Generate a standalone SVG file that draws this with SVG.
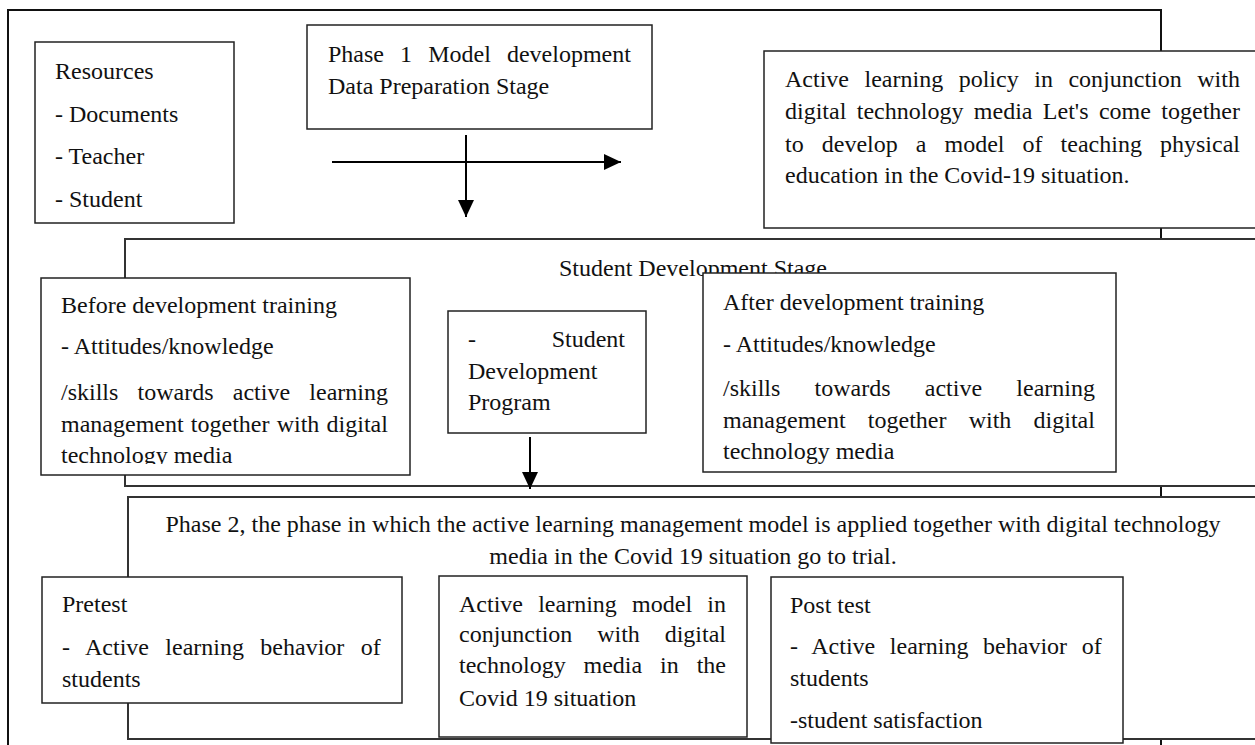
<svg xmlns="http://www.w3.org/2000/svg" width="1255" height="745" viewBox="0 0 1255 745">
<style>
.t{font-family:"Liberation Serif","Times New Roman",serif;font-size:24px;fill:#111}
.box{fill:#fff;stroke:#222;stroke-width:1.5}
.frame{fill:#fff;stroke:#333;stroke-width:2}
.outer{fill:#fff;stroke:#111;stroke-width:2}
.con{stroke:#000;stroke-width:2;fill:none}
</style>
<defs>
<marker id="ah" markerUnits="userSpaceOnUse" markerWidth="18" markerHeight="16" refX="17" refY="8" orient="auto">
<path d="M0,0 L17,8 L0,16 Z" fill="#000"/>
</marker>
<clipPath id="clipBefore"><rect x="41" y="278" width="369" height="186"/></clipPath>
</defs>
<rect id="outer-frame" class="outer" x="8" y="10" width="1153" height="760"/>

<g id="resources">
<rect class="box" x="35" y="42" width="199" height="181"/>
<text class="t" x="55" y="79">Resources</text>
<text class="t" x="55" y="122">- Documents</text>
<text class="t" x="55" y="164">- Teacher</text>
<text class="t" x="55" y="207">- Student</text>
</g>

<g id="phase1">
<rect class="box" x="307" y="25" width="345" height="104"/>
<text class="t" x="328" y="62" word-spacing="10.1">Phase 1 Model development</text>
<text class="t" x="328" y="94">Data Preparation Stage</text>
</g>

<g id="policy">
<rect class="box" x="764" y="51" width="520" height="177"/>
<text class="t" x="785" y="87" word-spacing="9.54">Active learning policy in conjunction with</text>
<text class="t" x="785" y="119" word-spacing="4.42">digital technology media Let's come together</text>
<text class="t" x="785" y="152" word-spacing="12.07">to develop a model of teaching physical</text>
<text class="t" x="785" y="183">education in the Covid-19 situation.</text>
</g>

<g id="student-stage">
<rect class="frame" x="125" y="239" width="1160" height="247"/>
<text class="t" x="693" y="276" text-anchor="middle">Student Development Stage</text>
</g>

<g id="before">
<rect class="box" x="41" y="278" width="369" height="197"/>
<g clip-path="url(#clipBefore)">
<text class="t" x="61" y="313">Before development training</text>
<text class="t" x="61" y="354">- Attitudes/knowledge</text>
<text class="t" x="61" y="400" word-spacing="13.23">/skills towards active learning</text>
<text class="t" x="61" y="432" word-spacing="1.23">management together with digital</text>
<text class="t" x="61" y="463">technology media</text>
</g>
</g>

<g id="program">
<rect class="box" x="448" y="311" width="198" height="122"/>
<text class="t" x="468" y="347">-</text>
<text class="t" x="625" y="347" text-anchor="end">Student</text>
<text class="t" x="468" y="379">Development</text>
<text class="t" x="468" y="410">Program</text>
</g>

<g id="after">
<rect class="box" x="703" y="273" width="413" height="199"/>
<text class="t" x="723" y="310">After development training</text>
<text class="t" x="723" y="352">- Attitudes/knowledge</text>
<text class="t" x="723" y="396" word-spacing="28.23">/skills towards active learning</text>
<text class="t" x="723" y="428" word-spacing="16.23">management together with digital</text>
<text class="t" x="723" y="459">technology media</text>
</g>

<g id="phase2">
<rect class="frame" x="128" y="497" width="1160" height="242"/>
<text class="t" x="693" y="532" text-anchor="middle">Phase 2, the phase in which the active learning management model is applied together with digital technology</text>
<text class="t" x="693" y="564" text-anchor="middle">media in the Covid 19 situation go to trial.</text>
</g>

<g id="pretest">
<rect class="box" x="42" y="577" width="360" height="126"/>
<text class="t" x="62" y="612">Pretest</text>
<text class="t" x="62" y="655" word-spacing="10.35">- Active learning behavior of</text>
<text class="t" x="62" y="687">students</text>
</g>

<g id="model">
<rect class="box" x="439" y="576" width="308" height="161"/>
<text class="t" x="459" y="612" word-spacing="9.23">Active learning model in</text>
<text class="t" x="459" y="642" word-spacing="18.84">conjunction with digital</text>
<text class="t" x="459" y="673" word-spacing="11.9">technology media in the</text>
<text class="t" x="459" y="706">Covid 19 situation</text>
</g>

<g id="posttest">
<rect class="box" x="771" y="577" width="352" height="166"/>
<text class="t" x="790" y="613">Post test</text>
<text class="t" x="790" y="654" word-spacing="8.6">- Active learning behavior of</text>
<text class="t" x="790" y="686">students</text>
<text class="t" x="790" y="728">-student satisfaction</text>
</g>

<g id="connectors">
<line class="con" x1="332" y1="162" x2="621" y2="162" marker-end="url(#ah)"/>
<line class="con" x1="466" y1="135" x2="466" y2="217" marker-end="url(#ah)"/>
<line class="con" x1="530" y1="437" x2="530" y2="489" marker-end="url(#ah)"/>
</g>
</svg>
